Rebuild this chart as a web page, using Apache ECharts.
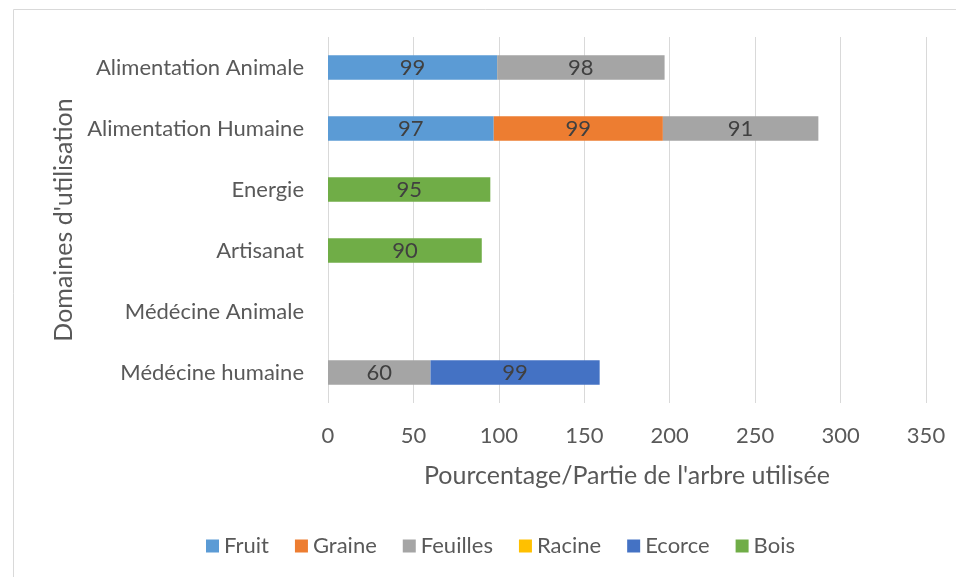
<!DOCTYPE html>
<html><head><meta charset="utf-8">
<script src="https://cdn.jsdelivr.net/npm/echarts@6/dist/echarts.min.js"></script>
<style>html,body{margin:0;padding:0;background:#fff}#c{width:956px;height:577px}</style>
</head><body><div id="c"></div>
<script>
const categories = ["Alimentation Animale","Alimentation Humaine","Energie","Artisanat","Médécine Animale","Médécine humaine"];
const seriesNames = ["Fruit","Graine","Feuilles","Racine","Ecorce","Bois"];
const colors = ["#5B9BD5","#ED7D31","#A5A5A5","#FFC000","#4472C4","#70AD47"];
const fruit   = [99, 97, null, null, null, null];
const graine  = [null, 99, null, null, null, null];
const feuilles= [98, 91, null, null, null, 60];
const racine  = [null, null, null, null, null, null];
const ecorce  = [null, null, null, null, null, 99];
const bois    = [null, null, 95, 90, null, null];
const xTicks = [0,50,100,150,200,250,300,350];

const FONT = "Lato";
const values = [fruit, graine, feuilles, racine, ecorce, bois];
const chart = echarts.init(document.getElementById('c'));
chart.setOption({
  animation:false,
  textStyle:{fontFamily:FONT},
  graphic:[{type:'rect',left:11,top:7,shape:{width:960,height:580},style:{fill:'none',stroke:'#d9d9d9',lineWidth:1},silent:true,z:-1}],
  grid:{left:328,right:30,top:37,bottom:174},
  legend:{top:530,left:201,itemWidth:13,itemHeight:13,itemGap:26,icon:'rect',
    textStyle:{fontFamily:FONT,fontSize:22,color:'#595959'},data:seriesNames},
  xAxis:{type:'value',min:xTicks[0],max:xTicks[xTicks.length-1],interval:50,
    axisLine:{show:false},axisTick:{show:false},
    splitLine:{lineStyle:{color:'#d9d9d9',width:1}},
    axisLabel:{fontFamily:FONT,fontSize:22,color:'#595959',margin:22},
    name:"Pourcentage/Partie de l'arbre utilisée",nameLocation:'middle',nameGap:60,
    nameTextStyle:{fontFamily:FONT,fontSize:25,color:'#595959'}},
  yAxis:{type:'category',data:categories,inverse:true,
    axisLine:{show:false},axisTick:{show:false},
    axisLabel:{fontFamily:FONT,fontSize:22,color:'#595959',margin:24},
    name:"Domaines d'utilisation",nameLocation:'middle',nameGap:252,nameRotate:90,
    nameTextStyle:{fontFamily:FONT,fontSize:25,color:'#595959'}},
  series: seriesNames.map((n,i)=>({
    name:n,type:'bar',stack:'total',data:values[i],barCategoryGap:'60%',
    itemStyle:{color:colors[i]},
    label:{show:true,position:'inside',color:'#404040',fontFamily:FONT,fontSize:22,
      formatter:p=>p.value==null?'':p.value}
  }))
});
</script></body></html>
